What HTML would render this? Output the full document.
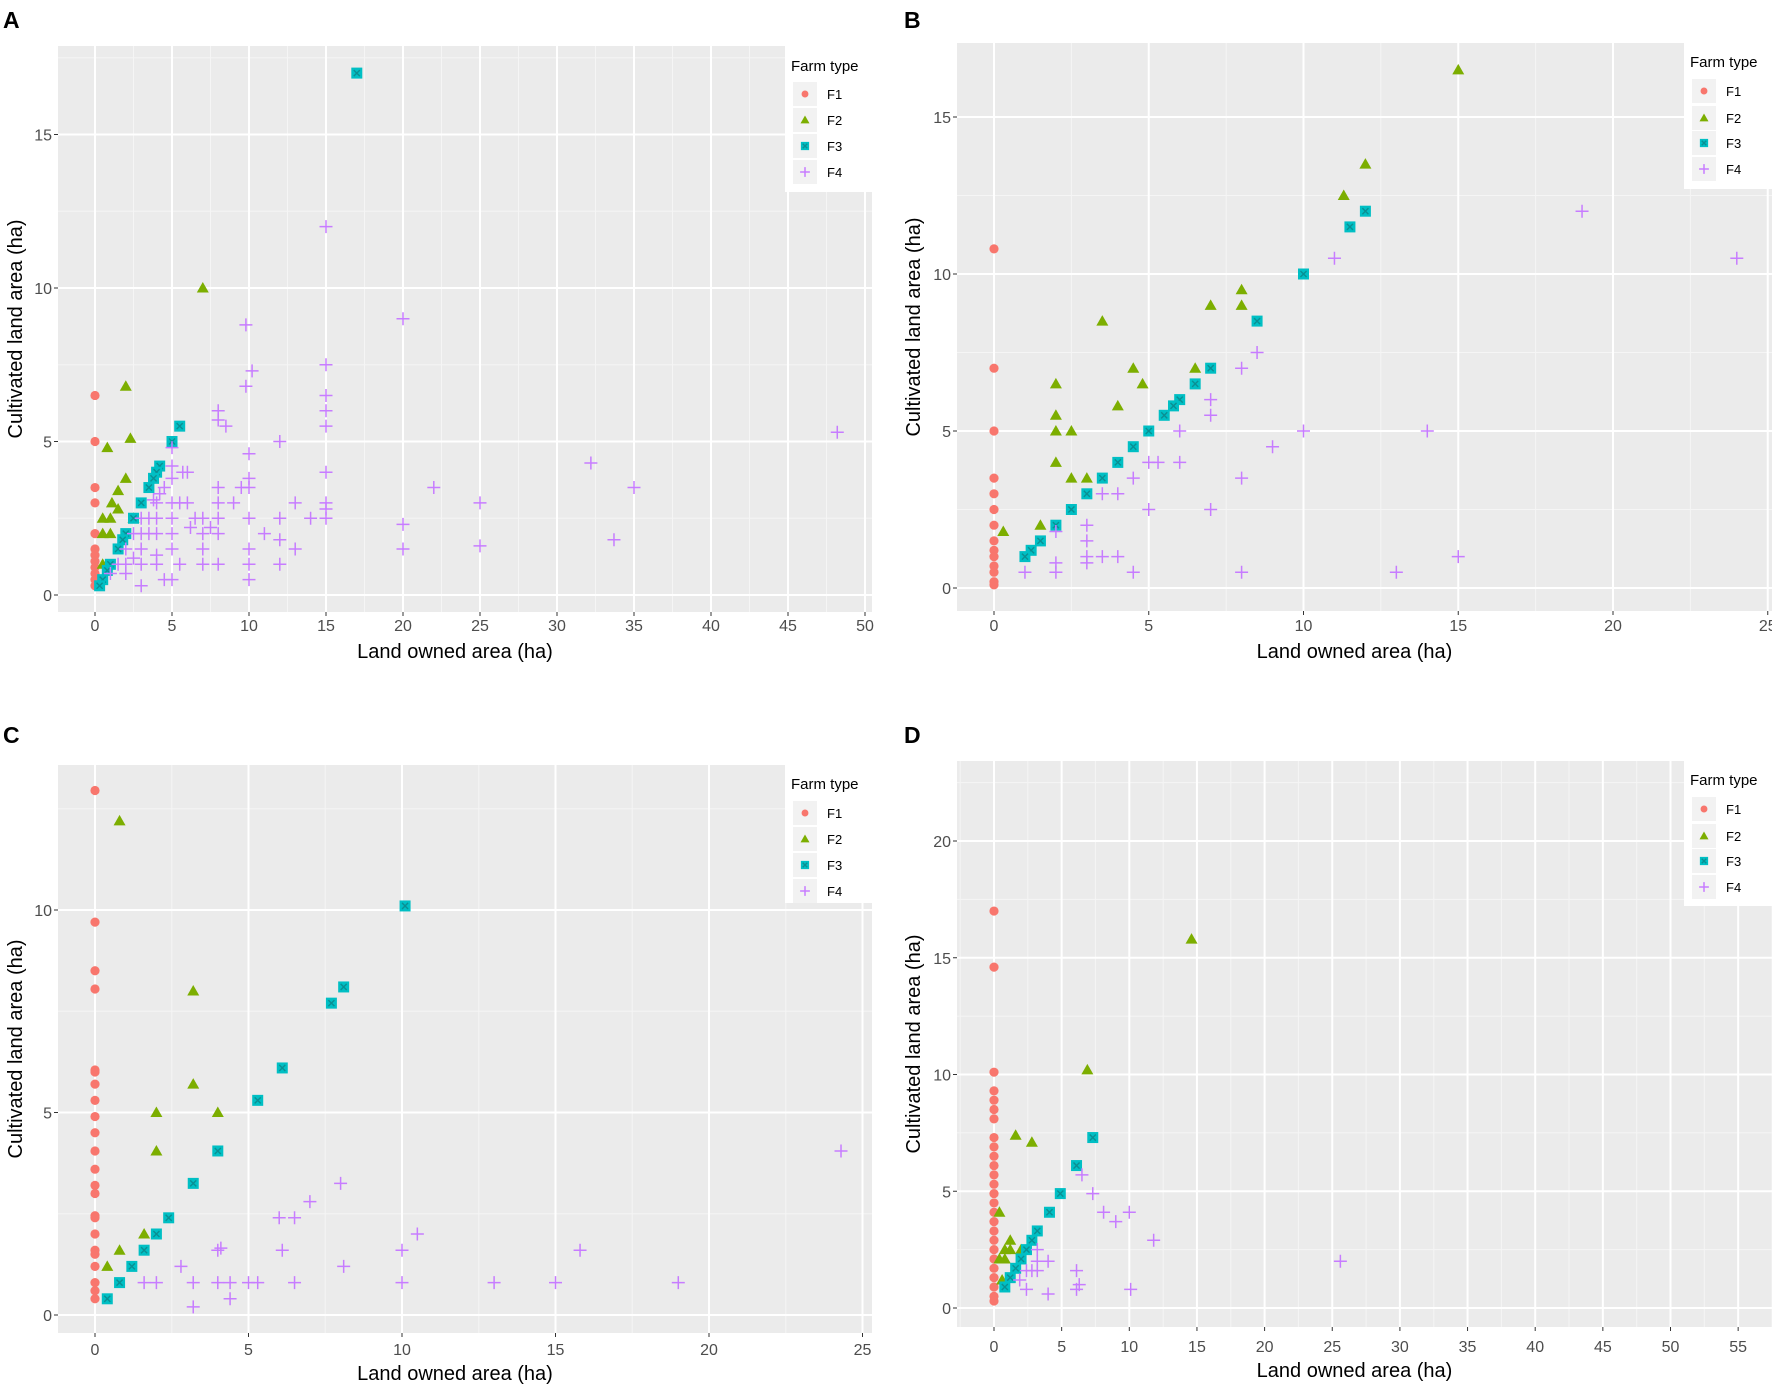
<!DOCTYPE html>
<html><head><meta charset="utf-8"><style>
body{margin:0;background:#fff;}
svg{display:block;font-family:"Liberation Sans",Arial,sans-serif;}
</style></head><body>
<svg id="fig" width="1772" height="1389" viewBox="0 0 1772 1389" xmlns="http://www.w3.org/2000/svg"></svg>
<script>
// ---------- Panel A data ----------
const aF1 = [[0,6.5],[0,5],[0,3.5],[0,3],[0,2],[0,1.5],[0,1.3],[0,1.1],[0,0.9],[0,0.7],[0,0.5],[0,0.3]];
const aF2 = [[7,10],[2,6.8],[2.3,5.1],[0.8,4.8],[2,3.8],[1.5,3.4],[1.1,3.0],[1.5,2.8],[0.5,2.5],[1,2.5],[0.5,2],[1,2],[0.5,1],[2.5,2.5]];
const aF3 = [[17,17],[5.5,5.5],[5,5],[4.2,4.2],[4,4],[3.8,3.8],[3.5,3.5],[3,3],[2.5,2.5],[2,2],[1.8,1.8],[1.5,1.5],[1,1],[0.8,0.8],[0.5,0.5],[0.3,0.3]];
const aF4 = [[15,12],[20,9],[9.8,8.8],[10.2,7.3],[9.8,6.8],[15,7.5],[15,6.5],[15,6],[15,5.5],[8,6],[8,5.7],[8.5,5.5],[12,5],[10,4.6],[48.2,5.3],[32.2,4.3],[35,3.5],[33.7,1.8],[22,3.5],[25,3],[25,1.6],[20,2.3],[20,1.5],[15,4],[15,3],[15,2.8],[15,2.5],[14,2.5],[13,3],[13,1.5],[12,2.5],[12,1.8],[12,1],[11,2],[10,3.8],[10,3.5],[10,2.5],[10,1.5],[10,1],[10,0.5],[9.5,3.5],[9,3],[8,3.5],[8,3],[8,2.5],[8,2],[8,1],[7,2.5],[7,2],[7,1.5],[7,1],[6.5,2.5],[6.2,2.2],[6,4],[5.5,1],[5,4.8],[5,4.2],[5,3.8],[5,3],[5,2.5],[5,2],[5,1.5],[5,0.5],[4.5,3.5],[4.5,0.5],[4,3],[4,2.5],[4,2],[4,1.3],[4,1],[3.5,2.5],[3.5,2],[3,2.5],[3,2],[3,1.5],[3,1],[3,0.3],[2.5,2],[2.5,1.2],[2,1.5],[2,1],[2,0.7],[1.5,1],[1,0.7],[5.5,3],[6,3],[4.2,3.3],[3.8,3.1],[5.7,4.0],[7.5,2.2]];
// ---------- Panel B data ----------
const bF1 = [[0,10.8],[0,7],[0,5],[0,3.5],[0,3],[0,2.5],[0,2],[0,1.5],[0,1.2],[0,1],[0,0.7],[0,0.5],[0,0.2],[0,0.1]];
const bF2 = [[15,16.5],[12,13.5],[11.3,12.5],[8,9.5],[7,9],[8,9],[3.5,8.5],[4.5,7],[6.5,7],[2,6.5],[4.8,6.5],[4,5.8],[2,5.5],[2,5],[2.5,5],[2,4],[2.5,3.5],[3,3.5],[1.5,2],[0.3,1.8]];
const bF3 = [[12,12],[11.5,11.5],[10,10],[8.5,8.5],[7,7],[6.5,6.5],[6,6],[5.8,5.8],[5.5,5.5],[5,5],[4.5,4.5],[4,4],[3.5,3.5],[3,3],[2.5,2.5],[2,2],[1.5,1.5],[1.2,1.2],[1,1]];
const bF4 = [[19,12],[24,10.5],[11,10.5],[8.5,7.5],[8,7],[7,6],[7,5.5],[6,5],[10,5],[14,5],[9,4.5],[5,4],[5.3,4],[6,4],[4.5,3.5],[8,3.5],[3.5,3],[4,3],[5,2.5],[7,2.5],[3,2],[2,1.8],[3,1.5],[3,1],[3.5,1],[4,1],[15,1],[1,0.5],[2,0.5],[2,0.8],[4.5,0.5],[8,0.5],[13,0.5],[3,0.8]];
// ---------- Panel C data ----------
const cF1 = [[0,12.95],[0,9.7],[0,8.5],[0,8.05],[0,6.05],[0,6.0],[0,5.7],[0,5.3],[0,4.9],[0,4.5],[0,4.05],[0,3.6],[0,3.2],[0,3.0],[0,2.45],[0,2.4],[0,2.0],[0,1.6],[0,1.5],[0,1.2],[0,0.8],[0,0.6],[0,0.4]];
const cF2 = [[0.8,12.2],[3.2,8],[3.2,5.7],[2,5],[4,5],[2,4.05],[1.6,2],[0.8,1.6],[0.4,1.2]];
const cF3 = [[10.1,10.1],[8.1,8.1],[7.7,7.7],[6.1,6.1],[5.3,5.3],[4,4.05],[3.2,3.25],[2.4,2.4],[2,2],[1.6,1.6],[1.2,1.2],[0.8,0.8],[0.4,0.4]];
const cF4 = [[24.3,4.05],[8,3.25],[7,2.8],[6,2.4],[6.5,2.4],[10.5,2],[4,1.6],[4.1,1.65],[6.1,1.6],[10,1.6],[15.8,1.6],[2.8,1.2],[8.1,1.2],[1.6,0.8],[2,0.8],[3.2,0.8],[4,0.8],[4.4,0.8],[5,0.8],[5.3,0.8],[6.5,0.8],[10,0.8],[13,0.8],[15,0.8],[19,0.8],[4.4,0.4],[3.2,0.2]];
// ---------- Panel D data ----------
const dF1 = [[0,17],[0,14.6],[0,10.1],[0,9.3],[0,8.9],[0,8.5],[0,8.1],[0,7.3],[0,6.9],[0,6.5],[0,6.1],[0,5.7],[0,5.3],[0,4.9],[0,4.5],[0,4.1],[0,3.7],[0,3.3],[0,2.9],[0,2.5],[0,2.1],[0,1.7],[0,1.3],[0,0.9],[0,0.5],[0,0.3]];
const dF2 = [[14.6,15.8],[6.9,10.2],[1.6,7.4],[2.8,7.1],[0.4,4.1],[1.2,2.9],[0.8,2.5],[1.2,2.5],[2,2.5],[0.4,2.1],[0.8,2.1],[0.6,1.2]];
const dF3 = [[7.3,7.3],[6.1,6.1],[4.9,4.9],[4.1,4.1],[3.2,3.3],[2.8,2.9],[2.4,2.5],[2,2.1],[1.6,1.7],[1.2,1.3],[0.8,0.9]];
const dF4 = [[25.6,2],[11.8,2.9],[10,4.1],[8.1,4.1],[9,3.7],[7.3,4.9],[6.5,5.7],[3.2,2.5],[3.2,2],[4,2],[3.2,1.6],[2.8,1.6],[2.4,1.6],[6.1,1.6],[1.9,1.2],[6.3,1],[6.1,0.8],[2.4,0.8],[4,0.6],[10.1,0.8]];
// tick label arrays
const aXTicks = [0,5,10,15,20,25,30,35,40,45,50];
const aYTicks = [0,5,10,15];
const bXTicks = [0,5,10,15,20,25];
const bYTicks = [0,5,10,15];
const cXTicks = [0,5,10,15,20,25];
const cYTicks = [0,5,10];
const dXTicks = [0,5,10,15,20,25,30,35,40,45,50,55];
const dYTicks = [0,5,10,15,20];
const seriesNames = ["F1","F2","F3","F4"];

const NS="http://www.w3.org/2000/svg";
const svg=document.getElementById('fig');
const COL={F1:"#F8766D",F2:"#7CAE00",F3:"#00BFC4",F4:"#C77CFF"};
function el(tag,attrs,parent){const e=document.createElementNS(NS,tag);for(const k in attrs)e.setAttribute(k,attrs[k]);(parent||svg).appendChild(e);return e;}

function marker(g,type,cx,cy,scale){
  const s=scale||1;let m;
  if(type==="F1"){m=el('circle',{cx:cx,cy:cy,r:4.6*s,fill:COL.F1},g);}
  else if(type==="F2"){const h=6*s;m=el('polygon',{points:`${cx},${cy-h} ${cx-h},${cy+h*0.75} ${cx+h},${cy+h*0.75}`,fill:COL.F2},g);}
  else if(type==="F3"){const h=5.5*s;m=el('g',{},g);
    el('rect',{x:cx-h,y:cy-h,width:2*h,height:2*h,fill:COL.F3},m);
    el('path',{d:`M${cx-h*0.55},${cy-h*0.55}L${cx+h*0.55},${cy+h*0.55}M${cx+h*0.55},${cy-h*0.55}L${cx-h*0.55},${cy+h*0.55}`,stroke:"#0a8f93",'stroke-width':1.4},m);}
  else {const h=6.5*s;m=el('path',{d:`M${cx-h},${cy}H${cx+h}M${cx},${cy-h}V${cy+h}`,stroke:COL.F4,'stroke-width':1.5,fill:"none"},g);}
  return m;
}

function panel(cfg){
  const g=el('g',{});
  
  
  const sx=v=>cfg.x0+v*cfg.px;
  const sy=v=>cfg.y0-v*cfg.py;
  const lab=el('text',{x:cfg.labX,y:cfg.labY,'font-size':23,'font-weight':'bold',fill:'#000'},g);
  lab.textContent=cfg.id;
  
  
  const bg=el('rect',{x:cfg.L,y:cfg.T,width:cfg.R-cfg.L,height:cfg.B-cfg.T,fill:'#EBEBEB'},g);
  
  
  const step=cfg.xt[1]-cfg.xt[0], ystep=cfg.yt[1]-cfg.yt[0];
  // minor grid
  for(let v=cfg.xt[0]-step/2; sx(v)<=cfg.R; v+=step){if(sx(v)>=cfg.L) el('line',{x1:sx(v),x2:sx(v),y1:cfg.T,y2:cfg.B,stroke:'#F5F5F5','stroke-width':1},g);}
  for(let v=cfg.yt[0]-ystep/2; sy(v)>=cfg.T; v+=ystep){if(sy(v)<=cfg.B) el('line',{x1:cfg.L,x2:cfg.R,y1:sy(v),y2:sy(v),stroke:'#F5F5F5','stroke-width':1},g);}
  // major grid + ticks
  cfg.xt.forEach(v=>{const x=sx(v);if(x<=cfg.R+1){el('line',{x1:x,x2:x,y1:cfg.T,y2:cfg.B,stroke:'#fff','stroke-width':2},g);}
    el('line',{x1:x,x2:x,y1:cfg.B,y2:cfg.B+4,stroke:'#333','stroke-width':1},g);
    const t=el('text',{x:x,y:cfg.xLabY,'font-size':16,fill:'#4D4D4D','text-anchor':'middle'},g);t.textContent=v;
    
    });
  cfg.yt.forEach(v=>{const y=sy(v);el('line',{x1:cfg.L,x2:cfg.R,y1:y,y2:y,stroke:'#fff','stroke-width':2},g);
    el('line',{x1:cfg.L-4,x2:cfg.L,y1:y,y2:y,stroke:'#333','stroke-width':1},g);
    const t=el('text',{x:cfg.L-6,y:y+6,'font-size':16,fill:'#4D4D4D','text-anchor':'end'},g);t.textContent=v;
    
    });
  // axis titles
  const xt=el('text',{x:(cfg.L+cfg.R-20)/2,y:cfg.xTitY,'font-size':20,fill:'#000','text-anchor':'middle'},g);
  xt.textContent='Land owned area (ha)';
  
  
  const yc=(cfg.T+cfg.B)/2;
  const yt=el('text',{x:cfg.yTitX,y:yc,'font-size':20,fill:'#000','text-anchor':'middle',transform:`rotate(-90 ${cfg.yTitX} ${yc})`},g);
  yt.textContent='Cultivated land area (ha)';
  
  
  // points
  const series=[cfg.d1,cfg.d2,cfg.d3,cfg.d4];
  series.forEach((arr,i)=>{const sg=el('g',{},g);
    
    
    arr.forEach(p=>{const m=marker(sg,seriesNames[i],sx(p[0]),sy(p[1]));
      
      });});
  // legend
  const lg=el('g',{},g);
  
  
  el('rect',{x:cfg.legX,y:cfg.T,width:cfg.R-cfg.legX,height:cfg.legB-cfg.T,fill:'#fff'},lg);
  const lt=el('text',{x:cfg.legX+6,y:cfg.legTitY+5,'font-size':15,fill:'#000'},lg);lt.textContent='Farm type';
  
  
  seriesNames.forEach((n,i)=>{const y=cfg.legY[i];
    const e=el('g',{},lg);
    
    
    el('rect',{x:cfg.legX+8,y:y-12,width:24,height:24,fill:'#F2F2F2'},e);
    marker(e,n,cfg.legX+20,y,0.75);
    const t=el('text',{x:cfg.legX+42,y:y+5,'font-size':13,fill:'#000'},e);t.textContent=n;});
}

panel({id:'A',labX:3,labY:28,L:58,R:872,T:46,B:612,x0:95,px:15.4,y0:595,py:30.7,xt:aXTicks,yt:aYTicks,
  xLabY:631,xTitY:658,yTitX:22,legX:785,legB:192,legTitY:66,legY:[94,120,146,172],d1:aF1,d2:aF2,d3:aF3,d4:aF4});
panel({id:'B',labX:904,labY:28,L:957,R:1772,T:43,B:611,x0:994,px:30.95,y0:588,py:31.4,xt:bXTicks,yt:bYTicks,
  xLabY:631,xTitY:658,yTitX:920,legX:1684,legB:189,legTitY:62,legY:[91,118,143,169],d1:bF1,d2:bF2,d3:bF3,d4:bF4});
panel({id:'C',labX:3,labY:743,L:58,R:872,T:765,B:1333,x0:95,px:30.7,y0:1315,py:40.5,xt:cXTicks,yt:cYTicks,
  xLabY:1355,xTitY:1380,yTitX:22,legX:785,legB:903,legTitY:784,legY:[813,839,865,891],d1:cF1,d2:cF2,d3:cF3,d4:cF4});
panel({id:'D',labX:904,labY:743,L:957,R:1772,T:761,B:1327,x0:994,px:13.53,y0:1308,py:23.35,xt:dXTicks,yt:dYTicks,
  xLabY:1352,xTitY:1377,yTitX:920,legX:1684,legB:906,legTitY:780,legY:[809,836,861,887],d1:dF1,d2:dF2,d3:dF3,d4:dF4});
</script>
</body></html>
